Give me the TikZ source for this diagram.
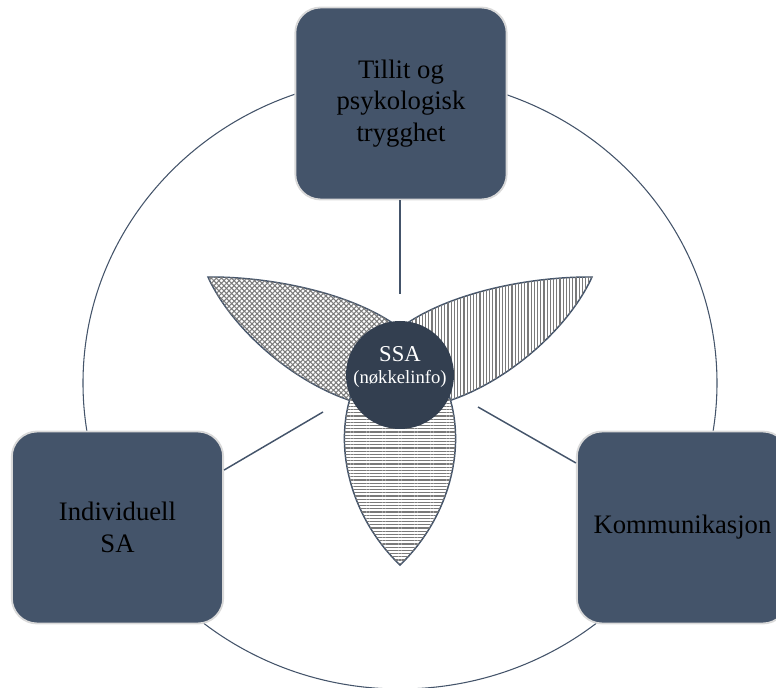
\documentclass[tikz,border=0pt]{standalone}
\usepackage{fontspec}
\setmainfont{Liberation Serif}
\usetikzlibrary{patterns.meta}
\definecolor{slate}{HTML}{44546A}
\definecolor{deepslate}{HTML}{333F50}
\definecolor{boxrim}{HTML}{D9D9D9}
\definecolor{hatch}{HTML}{7A7A7A}

\begin{document}
\begin{tikzpicture}[x=0.75pt,y=-0.75pt,
  box/.style={draw=boxrim, line width=1.4pt, fill=slate, rounded corners=19pt,
    minimum width=158.5pt, minimum height=144pt, inner sep=0pt, align=center,
    text=black, font=\fontsize{20}{23.5}\selectfont},
  conn/.style={draw=slate, line width=1.1pt},
  petal/.style={fill=white, postaction={draw=slate, line width=1.1pt}},
  dots/.style={postaction={pattern={Lines[angle=45,distance=2.7pt,line width=0.8pt]}, pattern color=hatch},
               postaction={pattern={Lines[angle=-45,distance=2.7pt,line width=0.8pt]}, pattern color=hatch}},
  vlines/.style={postaction={pattern={Lines[angle=90,distance=2.4pt,line width=0.9pt]}, pattern color=hatch}},
  hlines/.style={postaction={pattern={Lines[angle=0,distance=2.4pt,line width=0.9pt]}, pattern color=hatch}},
  ]
\useasboundingbox (0,0) rectangle (776,688);
\clip (0,0) rectangle (776,688);

% outer ring
\draw[slate, line width=0.8pt] (400,383) ellipse [x radius=237.75pt, y radius=229.5pt];

% the three themes
\node[box] (trust) at (401,103.5) {\raisebox{2pt}{\begin{tabular}{@{}c@{}}Tillit og\\psykologisk\\trygghet\end{tabular}}};
\node[box] (indiv) at (117.5,527.5) {Individuell\\SA};
\node[box] (comm)  at (682.5,527.5) {\raisebox{-3pt}{Kommunikasjon}};

% spokes towards the centre
\coordinate (topEnd) at (400,294);
\coordinate (leftEnd) at (323,412);
\coordinate (rightEnd) at (478,407);
\draw[conn] (topEnd |- trust.south) -- (topEnd);
\draw[conn] ([yshift=43.1pt]indiv.east) -- (leftEnd);
\draw[conn] ([yshift=48.4pt]comm.west) -- (rightEnd);

% petals
\path[petal, dots] (208,277) .. controls (298.3,276.3) and (438.0,311.1) .. (439.1,396.1)
   .. controls (371.5,440.0) and (245.0,358.0) .. (208,277) -- cycle;
\path[petal, vlines] (592,277) .. controls (501.7,276.3) and (362.0,311.1) .. (360.9,396.1)
   .. controls (428.5,440.0) and (555.0,358.0) .. (592,277) -- cycle;
\path[petal, hlines] (400,565) .. controls (332,500) and (320,385) .. (400,330)
   .. controls (480,385) and (468,500) .. (400,565) -- cycle;

% shared situation awareness hub
\node[circle, fill=deepslate, minimum size=81pt, inner sep=0pt] (hub) at (400,375) {};
\node[anchor=base, text=white, font=\fontsize{17}{20}\selectfont, inner sep=0pt] (hubTitle) at (400,362) {SSA};
\node[anchor=base, text=white, font=\fontsize{14}{16}\selectfont, inner sep=0pt] (hubSub) at (400,383) {(nøkkelinfo)};
\end{tikzpicture}
\end{document}
